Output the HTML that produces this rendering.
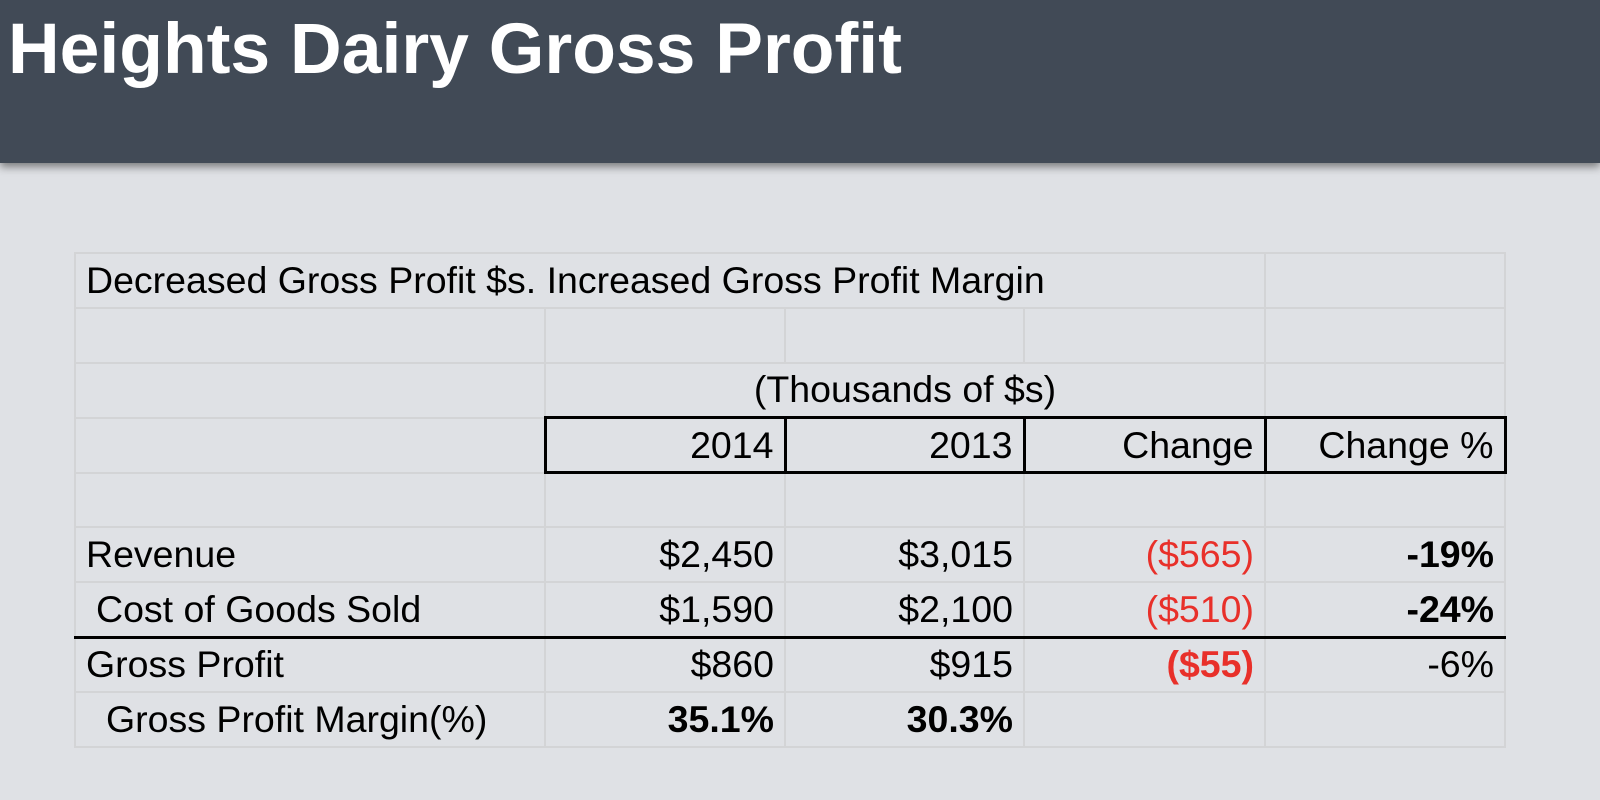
<!DOCTYPE html>
<html><head><meta charset="utf-8">
<style>
html,body{margin:0;padding:0;}
body{width:1600px;height:800px;background:#dfe1e5;position:relative;overflow:hidden;font-family:"Liberation Sans",Arial,sans-serif;}
#hdr{position:absolute;left:0;top:0;width:1600px;height:163px;background:#414a56;box-shadow:0 4px 8px rgba(0,0,0,0.45);}
#hdr h1{margin:0;position:absolute;left:8px;top:8px;color:#fff;font-size:71.5px;font-weight:bold;}
table{position:absolute;left:74px;top:252px;border-collapse:collapse;table-layout:fixed;}
td{height:54.9px;padding:0 10px;border:2px solid #d3d4d6;font-size:37.5px;color:#000;white-space:nowrap;box-sizing:border-box;text-align:right;}
td.l{text-align:left;}
td.box{border:3px solid #000;}
tr.ul td{border-bottom:3px solid #000;}
.red{color:#e8302a;}
.b{font-weight:bold;}
</style></head><body>
<div id="hdr"><h1>Heights Dairy Gross Profit</h1></div>
<table>
<colgroup><col style="width:470px"><col style="width:240px"><col style="width:239px"><col style="width:241px"><col style="width:240px"></colgroup>
<tr><td class="l" colspan="4">Decreased Gross Profit $s. Increased Gross Profit Margin</td><td></td></tr>
<tr><td></td><td></td><td></td><td></td><td></td></tr>
<tr><td></td><td colspan="3" style="text-align:center">(Thousands of $s)</td><td></td></tr>
<tr><td></td><td class="box">2014</td><td class="box">2013</td><td class="box">Change</td><td class="box">Change %</td></tr>
<tr><td></td><td></td><td></td><td></td><td></td></tr>
<tr><td class="l">Revenue</td><td>$2,450</td><td>$3,015</td><td class="red">($565)</td><td class="b">-19%</td></tr>
<tr class="ul"><td class="l" style="padding-left:20px">Cost of Goods Sold</td><td>$1,590</td><td>$2,100</td><td class="red">($510)</td><td class="b">-24%</td></tr>
<tr><td class="l">Gross Profit</td><td>$860</td><td>$915</td><td class="red b">($55)</td><td>-6%</td></tr>
<tr><td class="l" style="padding-left:30px">Gross Profit Margin(%)</td><td class="b">35.1%</td><td class="b">30.3%</td><td></td><td></td></tr>
</table>
</body></html>
